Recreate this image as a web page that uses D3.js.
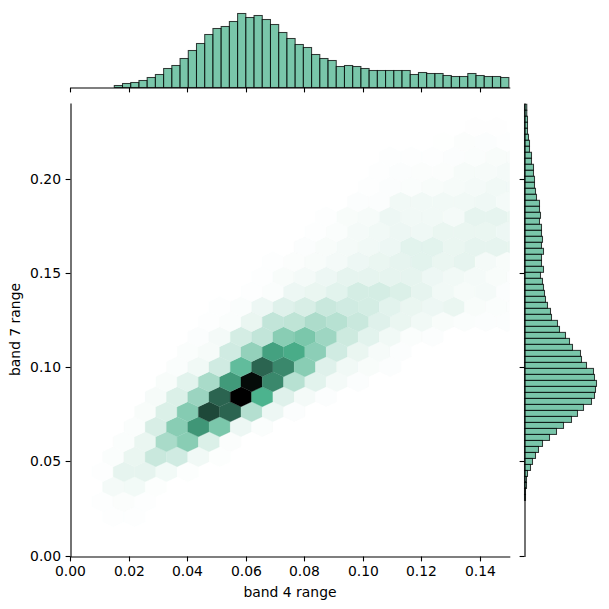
<!DOCTYPE html>
<html>
<head>
<meta charset="utf-8">
<style>
html, body { margin: 0; padding: 0; background: #fff; }
svg { display: block; }
text { font-family: "DejaVu Sans", sans-serif; font-size: 13.9px; fill: #000; }
</style>
<script src="https://cdnjs.cloudflare.com/ajax/libs/d3/7.8.5/d3.min.js"></script>
</head>
<body>
<svg id="chart" width="609" height="609"></svg>
<script>
// Hexagonal bin densities (percent of the peak bin). Each row sits one lattice step
// above the previous one; rowStart gives the column of its first bin.
const rowIndex = [-8,-7,-6,-5,-4,-3,-2,-1,0,1,2,3,4,5,6,7,8,9,10,11,12,13,14,15,16,17,18];
const rowStart = [-6,-7,-6,-7,-6,-6,-5,-5,-4,-4,-3,-3,-2,-2,-1,0,1,1,3,3,4,5,6,6,7,9,11];
const rowDensity = [
  [.5,.5],
  [.5,1.2,.5],
  [3,3.5,.8],
  [.5,7,7,3.5,.8],
  [1.5,6,15,13,4,.8],
  [1.5,6,24,33,10,1.2],
  [1.5,11,33,58,37,5,1.5],
  [2,10,34,80,72,21,5,1],
  [2.5,10,28,72,100,50,9,3,1],
  [2,8,24,57,97,62,20,8,3,1],
  [1.5,4,13,44,72,62,33,9,4,2,1],
  [1.5,2.5,13,30,55,52,32,13,6,2.5,1],
  [1,3,12,17,33,37,27,14,8,4,1.5,1],
  [.5,1.5,6,17,18,23,20,15,9,6,4,2,1.5,1,1],
  [.5,1.5,5,9,11,15,13,12,8,6,5,6,2,1.5,1],
  [.5,1.5,5,6,8,12,12,10,7,4,2.5,3,1],
  [.5,2,3,5,7,7,7,7,5,4,3,2,1],
  [.5,1.2,2,3,5,6,7,8,6,7,3,2],
  [1,2,3,4,5,8,8,6,7,7,7],
  [.5,1.5,3,4,5,4.5,6,6,6,5],
  [.5,2,2.5,5,4,4,3,7,7,6],
  [1,1,4,4,4,4,4.5,3],
  [.5,1,1.5,2,2.5,3,4,4],
  [.5,1,1.2,1.2,2.5,2.5,3],
  [.6,.6,.6,1,1.5,2,2],
  [.3,1.2,1,.5],
  [.4,.4]
];

// Lattice of the hexagonal bins, in data units of the two axes.
const hexOriginX = 0.05821, hexOriginY = 0.08477;
const hexStepX = 0.00727, hexStepY = 0.00796;

// Marginal histogram of band 4 range.
const band4Start = 0.01495, band4Width = 0.002807;
const band4Counts = [2,4,5,7,10,13,19,22,29,37,44,53,59,61,66,74,70,72,68,63,55,49,43,40,33,
  29,27,21,22,21,19,17,17,17,17,17,13,15,14,14,12,11,11,14,12,11,11,10];

// Marginal histogram of band 7 range, listed from the highest bin downwards.
const band7Low = 0.02972, band7Width = 0.003185;
const band7Counts = [2.3,2.3,3,3,3,4,5,5,7,7,9,9,10,10,11,12,15,15,16,15,17,17,18,17,19,17,17,19,16,18,19,20,21,23,26,27,33,
  35,41,45,48,56,57,62,69,70,72,71,70,67,59,53,47,39,32,25,18,14,11,8,6,3,2,2,1,1];

const xTicks = [0, 0.02, 0.04, 0.06, 0.08, 0.10, 0.12, 0.14];
const yTicks = [0, 0.05, 0.10, 0.15, 0.20];

const svg = d3.select("#chart");
const x = d3.scaleLinear().domain([0, 0.15]).range([70.5, 509.8]);
const y = d3.scaleLinear().domain([0, 0.2406]).range([556.5, 103]);
const topCount = d3.scaleLinear().domain([0, 78]).range([87.5, 9.5]);
const rightCount = d3.scaleLinear().domain([0, 78]).range([524.5, 602.5]);

const baseColor = "#4cb38e";
const shade = d3.scaleLinear().domain([0, 50, 100]).range(["#ffffff", baseColor, "#000000"]).clamp(true);

svg.append("defs").append("clipPath").attr("id", "plot-clip").append("rect")
  .attr("x", x(0)).attr("y", y(0.2406)).attr("width", x(0.15) - x(0)).attr("height", y(0) - y(0.2406));

// Hexbin layer
const hexes = rowIndex.flatMap((r, i) => rowDensity[i].map((v, j) => ({
  cx: hexOriginX + (rowStart[i] + j + (((r % 2) + 2) % 2 ? 0.5 : 0)) * hexStepX,
  cy: hexOriginY + r * hexStepY,
  v
})));
const hexPath = d => {
  const hw = hexStepX / 2, tip = hexStepY * 2 / 3, sh = hexStepY / 3;
  return "M" + [[hw, -sh], [hw, sh], [0, tip], [-hw, sh], [-hw, -sh], [0, -tip]]
    .map(o => [x(d.cx + o[0]), y(d.cy + o[1])].join(",")).join("L") + "Z";
};
svg.append("g").attr("clip-path", "url(#plot-clip)")
  .selectAll("path").data(hexes).join("path")
  .attr("d", hexPath)
  .attr("fill", d => shade(d.v))
  .attr("stroke", d => shade(d.v))
  .attr("stroke-width", 0.3);

// Top marginal
svg.append("g").selectAll("rect").data(band4Counts).join("rect")
  .attr("x", (d, i) => x(band4Start + i * band4Width))
  .attr("width", x(band4Width) - x(0))
  .attr("y", d => topCount(d))
  .attr("height", d => topCount(0) - topCount(d))
  .attr("fill", baseColor).attr("fill-opacity", 0.75)
  .attr("stroke", "#000").attr("stroke-opacity", 0.75).attr("stroke-width", 1.05);

// Right marginal, clipped to the main y range
svg.append("defs").append("clipPath").attr("id", "right-clip").append("rect")
  .attr("x", 520).attr("y", y(0.2406)).attr("width", 89).attr("height", y(0) - y(0.2406));
const n7 = band7Counts.length;
svg.append("g").attr("clip-path", "url(#right-clip)")
  .selectAll("rect").data(band7Counts).join("rect")
  .attr("x", rightCount(0))
  .attr("width", d => rightCount(d) - rightCount(0))
  .attr("y", (d, i) => y(band7Low + (n7 - i) * band7Width))
  .attr("height", y(0) - y(band7Width))
  .attr("fill", baseColor).attr("fill-opacity", 0.75)
  .attr("stroke", "#000").attr("stroke-opacity", 0.75).attr("stroke-width", 1.05);

// Tick lines sit on whole pixels
const snapX = v => Math.floor(x(v)) + 0.5;
const snapY = v => Math.floor(y(v) - 0.5) + 0.5;
const fmt = d3.format(".2f");

function styleAxis(g) {
  g.selectAll("line,path").attr("stroke", "#000").attr("stroke-width", 1.1);
  g.selectAll("text").attr("font-family", null).attr("font-size", null);
  g.attr("font-family", null).attr("font-size", null);
}

const xAxis = d3.axisBottom(x).tickValues(xTicks).tickFormat(fmt).tickSizeInner(4.9).tickSizeOuter(0).tickPadding(4.6);
const gx = svg.append("g").attr("transform", "translate(0,556.5)").call(xAxis).call(styleAxis);
gx.selectAll(".tick").attr("transform", d => `translate(${snapX(d)},0)`);

const yAxis = d3.axisLeft(y).tickValues(yTicks).tickFormat(fmt).tickSizeInner(4.9).tickSizeOuter(0).tickPadding(4.6);
const gy = svg.append("g").attr("transform", "translate(70.5,0)").call(yAxis).call(styleAxis);
gy.selectAll(".tick").attr("transform", d => `translate(0,${snapY(d)})`);

// Marginal axes carry the shared ticks but no labels
const gxTop = svg.append("g").attr("transform", "translate(0,87.5)")
  .call(d3.axisBottom(x).tickValues(xTicks).tickFormat("").tickSizeInner(4.9).tickSizeOuter(0)).call(styleAxis);
gxTop.selectAll(".tick").attr("transform", d => `translate(${snapX(d)},0)`);

const gyRight = svg.append("g").attr("transform", "translate(524.5,0)")
  .call(d3.axisLeft(y).tickValues(yTicks).tickFormat("").tickSizeInner(4.9).tickSizeOuter(0)).call(styleAxis);
gyRight.selectAll(".tick").attr("transform", d => `translate(0,${snapY(d)})`);

// Axis titles
svg.append("text").attr("x", 290).attr("y", 597).attr("text-anchor", "middle").text("band 4 range");
svg.append("text").attr("transform", "translate(20,329.5) rotate(-90)").attr("text-anchor", "middle").text("band 7 range");
</script>
</body>
</html>
